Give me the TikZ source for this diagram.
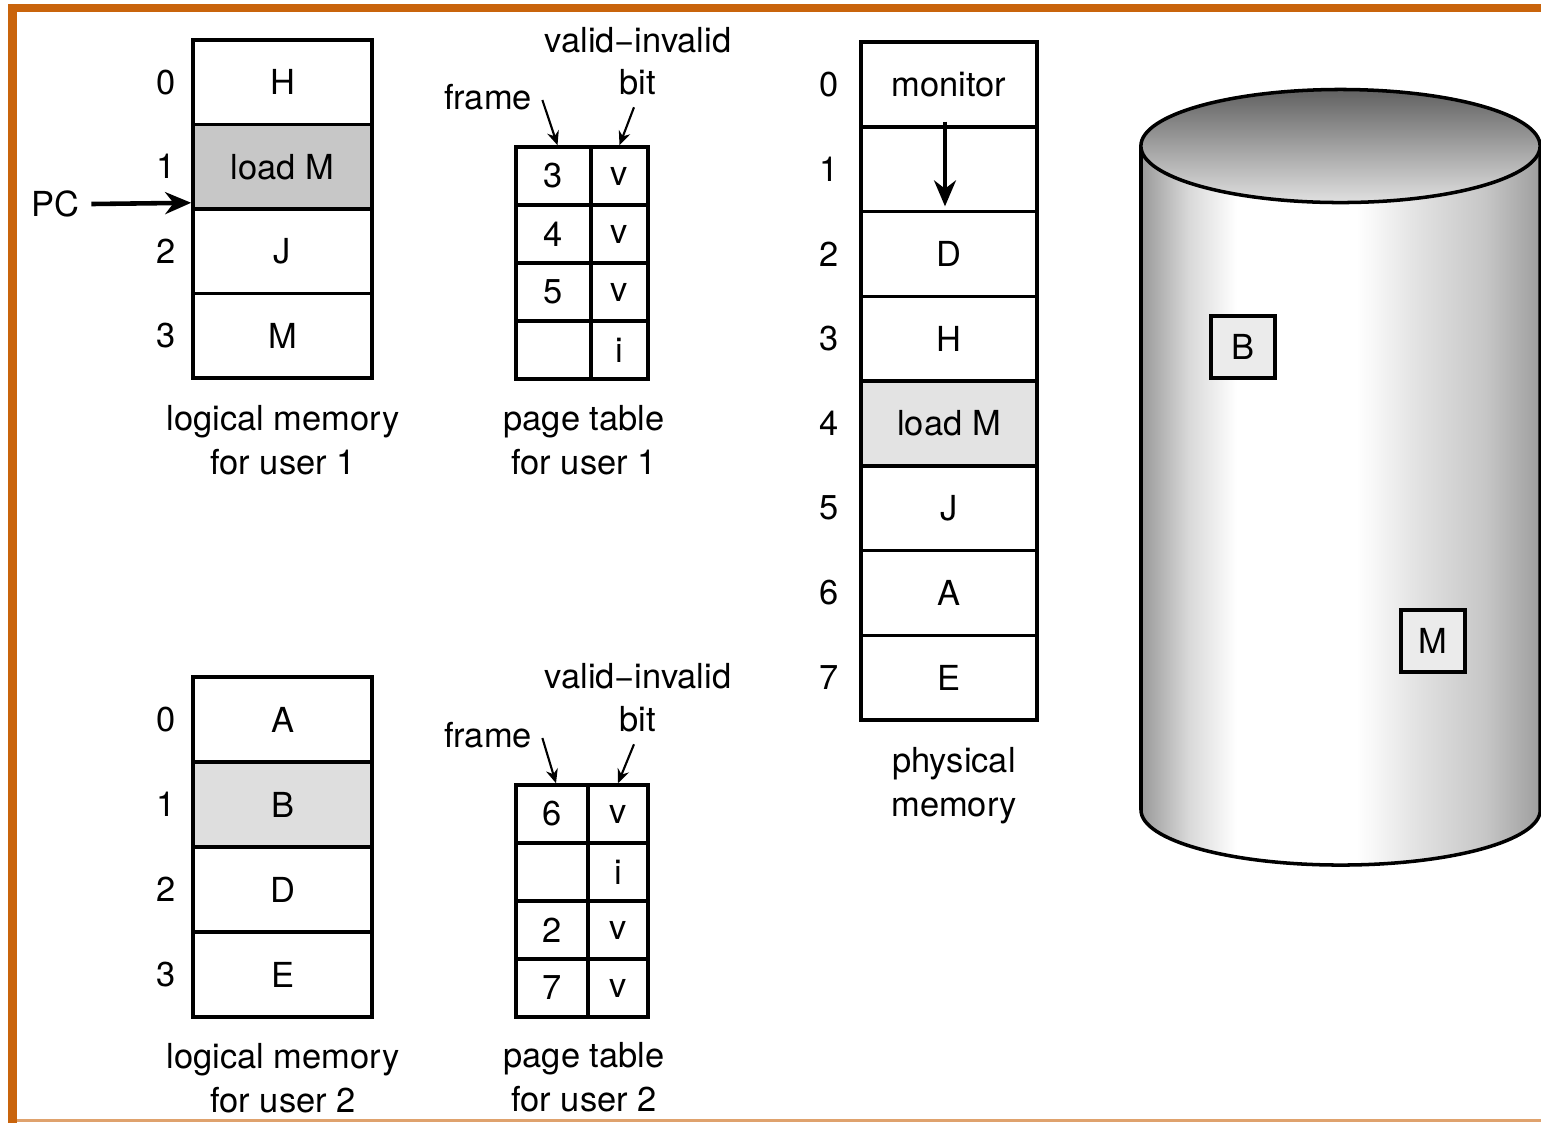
\documentclass[tikz,border=0pt]{standalone}
\usepackage{fontspec}
\setmainfont{TeX Gyre Heros}
\usetikzlibrary{arrows.meta}
\definecolor{frameorange}{HTML}{C9640C}
\pgfdeclarehorizontalshading{cylbody}{100bp}{color(0bp)=(black!40); color(25bp)=(black!40);
  color(31bp)=(black!15); color(37bp)=(white); color(52bp)=(white); color(60bp)=(black!12);
  color(68bp)=(black!22); color(75bp)=(black!38); color(100bp)=(black!38)}
\tikzset{>=Stealth}
\tikzset{
  cell/.style={draw, line width=1pt, inner sep=0pt, minimum width=1.79cm, minimum height=0.845cm},
  pcell/.style={cell, minimum width=1.76cm, minimum height=0.8475cm},
  fcell/.style={cell, minimum width=0.75cm, minimum height=0.58cm},
  bcell/.style={cell, minimum width=0.57cm, minimum height=0.58cm},
  idx/.style={label distance=0.03cm},
  pidx/.style={label distance=0.08cm},
  disk/.style={draw, fill=black!8, line width=0.9pt, minimum width=0.64cm, minimum height=0.62cm},
  ptr/.style={-{Stealth[length=0.14cm, width=0.12cm]}, line width=0.6pt},
  bigptr/.style={-{Stealth[length=0.26cm, width=0.22cm]}, line width=1.3pt}
}

\begin{document}
\begin{tikzpicture}[x=0.01cm, y=-0.01cm, font=\fontsize{9.8}{12.5}\selectfont]
  \useasboundingbox (0,0) rectangle (1541,1123);
  % frame
  \fill[frameorange] (8,4) rectangle (1541,12);
  \fill[frameorange] (8,4) rectangle (17,1123);
  \fill[frameorange!60] (17,1119) rectangle (1541,1122);

  % user 1
  \foreach \t/\c [count=\i from 0] in {H/white, load M/black!22, J/white, M/white}
    \node[cell, fill=\c, label={[idx]left:\i}] (lmone-\i) at (282.5, 82.25+84.5*\i) {\t};
  \node (pc) at (55,204) {PC};
  \draw[bigptr] (pc.east) -- ([yshift=0.08cm]lmone-1.south west);
  \node[align=center] (lmone-cap) at (283,440) {logical memory\\for user 1};

  \foreach \f/\b [count=\i from 0] in {3/v, 4/v, 5/v, /i} {
    \node[fcell] (ptone-\i-f) at (553.5, 176+58*\i) {\f};
    \node[bcell] (ptone-\i-b) at (619.5, 176+58*\i) {\b};
  }
  \node (vione) at (638,40) {valid−invalid};
  \node (bitone) at (638,82) {bit};
  \node (frone) at (488,97) {frame};
  \draw[ptr] ([shift={(-0.02cm,-0.03cm)}]frone.east) -- ([xshift=0.04cm]ptone-0-f.north);
  \draw[ptr] ([xshift=-0.04cm]bitone.south) -- (ptone-0-b.north);
  \node[align=center] (ptone-cap) at (584,440) {page table\\for user 1};

  % user 2
  \foreach \t/\c [count=\i from 0] in {A/white, B/black!13, D/white, E/white}
    \node[cell, fill=\c, label={[idx]left:\i}] (lmtwo-\i) at (282.5, 719.5+85*\i) {\t};
  \node[align=center] (lmtwo-cap) at (283,1078) {logical memory\\for user 2};

  \foreach \f/\b [count=\i from 0] in {6/v, /i, 2/v, 7/v} {
    \node[fcell, minimum width=0.72cm] (pttwo-\i-f) at (552, 814+58*\i) {\f};
    \node[bcell, minimum width=0.60cm] (pttwo-\i-b) at (618, 814+58*\i) {\b};
  }
  \node (vitwo) at (638,676) {valid−invalid};
  \node (bittwo) at (638,719) {bit};
  \node (frtwo) at (488,735) {frame};
  \draw[ptr] ([shift={(-0.02cm,-0.03cm)}]frtwo.east) -- ([xshift=0.04cm]pttwo-0-f.north);
  \draw[ptr] ([xshift=-0.04cm]bittwo.south) -- (pttwo-0-b.north);
  \node[align=center] (pttwo-cap) at (584,1077) {page table\\for user 2};

  % physical memory
  \foreach \t/\c [count=\i from 0] in {monitor/white, /white, D/white, H/white,
      load M/black!11, J/white, A/white, E/white}
    \node[pcell, fill=\c, label={[pidx]left:\i}] (pm-\i) at (949, 84.4+84.75*\i) {\t};
  \draw[bigptr, line width=1pt] ([shift={(-0.04cm,0.07cm)}]pm-0.south) -- ([shift={(-0.04cm,0.07cm)}]pm-1.south);
  \node[align=center] (pm-cap) at (954,786) {physical\\memory};

  % backing store
  \shade[shading=cylbody] (1141,146) -- (1141,810)
    arc[start angle=180, end angle=360, x radius=1.995cm, y radius=0.55cm] -- (1540,146) -- cycle;
  \draw[line width=1pt] (1141,146) -- (1141,810)
    arc[start angle=180, end angle=360, x radius=1.995cm, y radius=0.55cm] -- (1540,146);
  \shade[top color=black!62, bottom color=black!12, draw=black, line width=1pt]
    (1340.5,146) ellipse[x radius=1.995cm, y radius=0.565cm];
  \node[disk] (dsk-b) at (1243,347) {B};
  \node[disk] (dsk-m) at (1433,641) {M};
\end{tikzpicture}
\end{document}
